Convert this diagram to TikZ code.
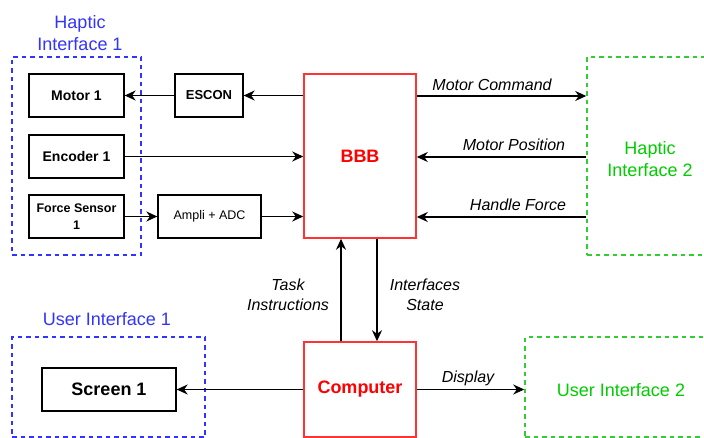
\documentclass[tikz,border=0pt]{standalone}
\usepackage{fontspec}
\setmainfont{Liberation Sans}
\usetikzlibrary{arrows.meta}

\definecolor{hblue}{RGB}{51,51,255}
\definecolor{hgreen}{RGB}{51,204,51}
\definecolor{tgreen}{RGB}{0,204,0}
\definecolor{bred}{RGB}{255,51,51}

\tikzset{
	blk/.style={draw, line width=1.3pt, minimum height=43pt, inner sep=1pt, align=center, font=\bfseries\fontsize{14}{16}\selectfont},
	cpu/.style={draw=bred, line width=1.5pt, text=red, font=\bfseries\fontsize{18}{22}\selectfont},
	grpblue/.style={draw=hblue, line width=1.5pt, dash pattern={on 4.5pt off 4pt}},
	grpgreen/.style={draw=hgreen, line width=1.5pt, dash pattern={on 4.5pt off 4pt}},
	ttl/.style={align=center, font=\fontsize{18}{22}\selectfont},
	lbl/.style={align=center, inner sep=0pt, font=\itshape\fontsize{16}{20}\selectfont},
	arr/.style={-{Stealth[length=11pt,width=10pt,inset=3.5pt]}, line width=1.4pt}
}

\begin{document}
\begin{tikzpicture}[x=1pt,y=1pt,yscale=-1]
	\useasboundingbox (0,0) rectangle (704,438);
	
	%Group boxes
	\node [grpblue, minimum width=129pt, minimum height=198pt] (hi1) at (76.5,156) {};
	\node [ttl, text=hblue] (hi1ttl) at (80,33) {Haptic\\Interface 1};
	\node [grpgreen, minimum width=126pt, minimum height=198pt] (hi2) at (650,156) {};
	\node [ttl, text=tgreen] (hi2ttl) at (650,159) {Haptic\\Interface 2};
	\node [grpblue, minimum width=193pt, minimum height=100pt] (ui1) at (108.5,387) {};
	\node [ttl, text=hblue] (ui1ttl) at (107,319) {User Interface 1};
	\node [grpgreen, minimum width=192pt, minimum height=100pt] (ui2) at (621,387) {};
	\node [ttl, text=tgreen] (ui2ttl) at (621,390) {User Interface 2};
	
	%Blocks
	\node [blk, minimum width=95pt] (motor) at (76.5,95.5) {Motor 1};
	\node [blk, minimum width=68pt, font=\bfseries\fontsize{13}{15}\selectfont] (escon) at (209,95.5) {ESCON};
	\node [blk, minimum width=95pt] (encoder) at (76.5,156.5) {Encoder 1};
	\node [blk, minimum width=95pt, font=\bfseries\fontsize{12.5}{17}\selectfont] (force) at (76.5,216.5) {Force Sensor\\1};
	\node [blk, minimum width=103pt, font=\fontsize{12.5}{15}\selectfont] (ampli) at (209.5,216.5) {Ampli + ADC};
	\node [blk, minimum width=134pt, font=\bfseries\fontsize{18}{22}\selectfont] (screen) at (109,389.5) {Screen 1};
	\node [cpu, minimum width=112pt, minimum height=164pt] (bbb) at (360,156) {BBB};
	\node [cpu, minimum width=112pt, minimum height=95pt] (computer) at (360,389.5) {Computer};
	
	%Connectors
	\draw [arr] (escon.east -| bbb.west) -- (escon.east);
	\draw [arr] (escon.west) -- (motor.east);
	\draw [arr] (encoder.east) -- (encoder.east -| bbb.west);
	\draw [arr] (force.east) -- (ampli.west);
	\draw [arr] (ampli.east) -- (ampli.east -| bbb.west);
	\draw [arr] ([yshift=-60pt]bbb.east) -- ([yshift=-60pt]bbb.east -| hi2.west);
	\draw [arr] ([yshift=1pt]bbb.east -| hi2.west) -- ([yshift=1pt]bbb.east);
	\draw [arr] ([yshift=61pt]bbb.east -| hi2.west) -- ([yshift=61pt]bbb.east);
	\draw [arr] ([xshift=-19pt]computer.north) -- ([xshift=-19pt]computer.north |- bbb.south);
	\draw [arr] ([xshift=17pt]bbb.south) -- ([xshift=17pt]bbb.south |- computer.north);
	\draw [arr] (computer.west) -- (screen.east);
	\draw [arr] (computer.east) -- (computer.east -| ui2.west);
	
	% Text Node
	\node [lbl] (lcmd) at (492,85) {Motor Command};
	% Text Node
	\node [lbl] (lpos) at (514,145) {Motor Position};
	% Text Node
	\node [lbl] (lforce) at (518,205) {Handle Force};
	% Text Node
	\node [lbl] (ltask) at (288,295) {Task\\Instructions};
	% Text Node
	\node [lbl] (lstate) at (425,295) {Interfaces\\State};
	% Text Node
	\node [lbl] (ldisp) at (468,378) {Display};
	
\end{tikzpicture}
\end{document}
